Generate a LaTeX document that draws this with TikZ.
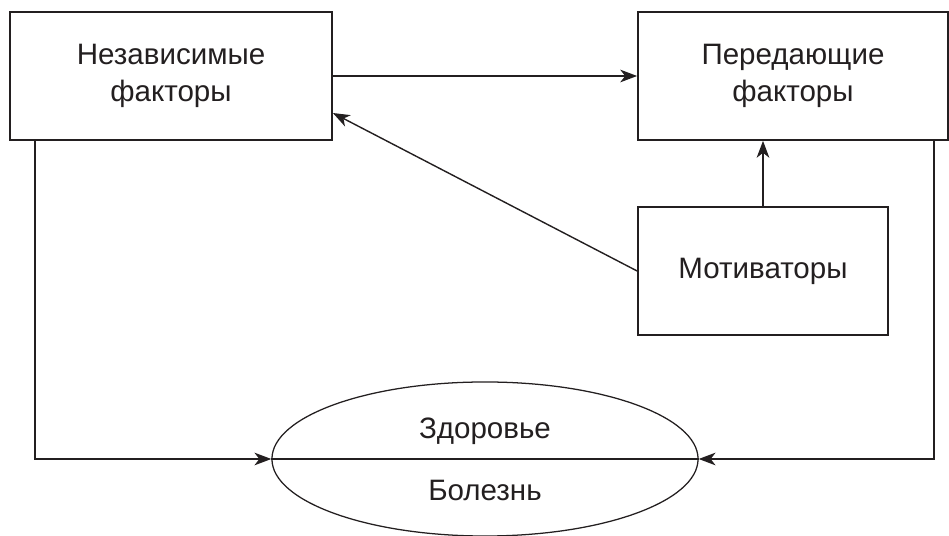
\documentclass[tikz,border=0pt]{standalone}
\usepackage{fontspec}
\setmainfont{Liberation Sans}
\usetikzlibrary{shapes.geometric}
\usetikzlibrary{arrows.meta}
\definecolor{inkColor}{HTML}{231F20}

\begin{document}
\begin{tikzpicture}[x=0.025cm,y=-0.025cm,
    every node/.style={text=inkColor, font=\fontsize{21}{26}\selectfont},
    factorbox/.style={draw=inkColor, line width=1.2pt, minimum width=#1, minimum height=3.2cm, align=center, inner sep=0pt},
    link/.style={draw=inkColor, line width=1pt, -{Stealth[length=12pt,width=9pt,inset=3.5pt]}}]
  \useasboundingbox (0,0) rectangle (949,536);

  \node[factorbox=8.05cm] (indep) at (171,76) {Независимые\\факторы};
  \node[factorbox=7.75cm] (trans) at (793,76) {Передающие\\факторы};
  \node[factorbox=6.25cm] (motiv) at (763,271) {Мотиваторы};

  \node[draw=inkColor, line width=0.9pt, ellipse, minimum width=10.65cm, minimum height=3.85cm, inner sep=0pt] (state) at (485,459) {};
  \node (health) at (485,431) {Здоровье};
  \node (ill) at (485,490) {Болезнь};
  \draw[draw=inkColor, line width=1pt] (state.west) -- (state.east);

  \draw[link] (indep.east) -- (trans.west);
  \draw[link] (motiv.north) -- (motiv.north |- trans.south);
  \draw[link] (motiv.west) -- ([yshift=-0.925cm]indep.east);
  \draw[link] ([xshift=0.65cm]indep.south west) |- (state.west);
  \draw[link] ([xshift=-0.375cm]trans.south east) |- (state.east);
\end{tikzpicture}
\end{document}
